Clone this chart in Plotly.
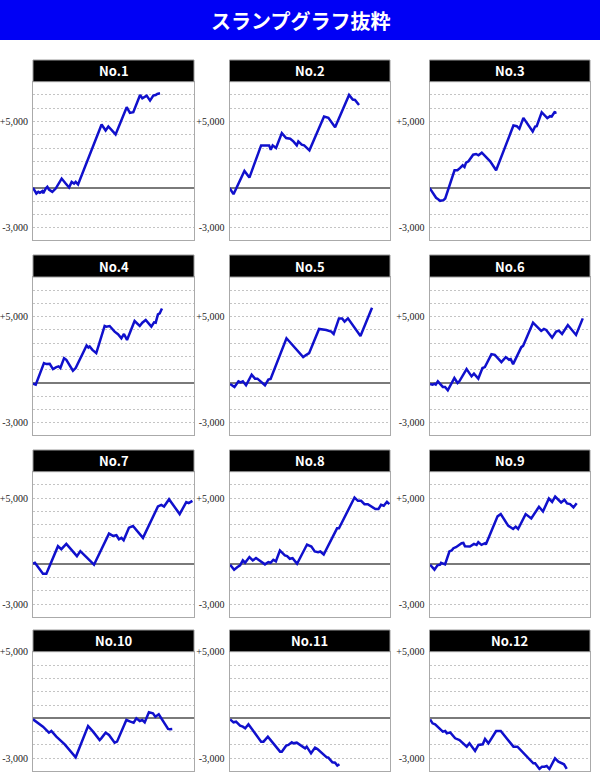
import plotly.graph_objects as go

# ---------------- data (x = position along the play span, 0-100; y = coins) ----------------
PANEL_TITLES = ["No.1", "No.2", "No.3", "No.4", "No.5", "No.6",
                "No.7", "No.8", "No.9", "No.10", "No.11", "No.12"]
TICK_VALUES = [5000, -3000]
TICK_LABELS = ["+5,000", "-3,000"]
MAIN_TITLE = "スランプグラフ抜粋"

NO1_X = [0, 2.1, 3.3, 4.3, 5.8, 6.4, 7.9, 8.9, 9.9, 11, 12, 14.1, 17.8, 20.3, 22.4, 24, 25.5, 26.5, 28,
         42.6, 45.1, 46.8, 51.3, 58.2, 60.2, 62.3, 66.5, 67.9, 69.4, 70.6, 72.7, 74.7, 76.2, 77.2, 78.9]
NO1_Y = [0, -425, -300, -375, -250, -400, -50, 75, -125, -250, -300, -50, 700, 325, 25, 450, 325, 450, 250,
         4775, 4325, 4625, 4025, 6075, 5650, 5700, 7000, 6750, 6900, 6950, 6575, 6950, 7000, 7075, 7125]

NO2_X = [0, 2.5, 9.3, 12.4, 19.7, 23.2, 24.7, 25.7, 26.9, 29, 32.6, 35.3, 37.8, 39.8, 41.9, 42.9, 45, 46.5,
         49.8, 58.9, 61.6, 65.8, 74.5, 76.8, 78.2, 80.7]
NO2_Y = [0, -475, 1275, 775, 3200, 3200, 3200, 2875, 3200, 3000, 4125, 3750, 3700, 3500, 3200, 3500, 3250, 3200,
         2825, 5375, 5275, 4575, 7000, 6650, 6625, 6250]

NO3_X = [0, 4.1, 5.6, 6.6, 8.7, 9.8, 15.6, 17.4, 19.1, 20.7, 21.8, 22.8, 24.3, 27.2, 29, 30.5, 32.6, 34.6,
         37.8, 41.5, 52.3, 54.4, 56, 58.5, 64.3, 65.8, 66.8, 69.9, 71.4, 73.4, 75.1, 76.1, 78.2, 78.6]
NO3_Y = [0, -750, -875, -975, -925, -800, 1325, 1325, 1500, 1700, 1575, 1900, 2000, 2500, 2550, 2450, 2650, 2400,
         2000, 1325, 4700, 4650, 4450, 5275, 4250, 4625, 4650, 5700, 5500, 5250, 5400, 5375, 5750, 5575]

NO4_X = [0, 1.7, 6.8, 8.3, 10.4, 12.4, 14.5, 15.9, 17, 19.3, 20.7, 24.8, 26.5, 33.3, 34.4, 35.2, 36.9, 39.3,
         44.5, 45.5, 47.6, 50.7, 52.8, 54.9, 56.5, 58.4, 63.1, 66.3, 67.9, 70, 73.5, 75.2, 76.2, 77.6, 78.7, 80.1]
NO4_Y = [-50, -125, 1500, 1425, 1450, 1050, 1200, 1250, 1125, 1875, 1750, 925, 1125, 2825, 2675, 2750, 2500, 2250,
         4300, 4250, 4300, 3875, 3675, 3375, 3700, 3250, 4675, 4300, 4550, 4750, 4250, 4575, 4550, 5175, 5250, 5625]

NO5_X = [0.4, 3.1, 5.6, 7, 8.3, 10.3, 13.8, 15.9, 17.4, 20, 22.1, 24.2, 25.6, 35.5, 45.9, 47.9, 49.6, 55.8,
         58.3, 60.3, 63.4, 64.9, 68.2, 70.2, 71.7, 73.8, 81.6, 88.8]
NO5_Y = [-75, -300, 125, 50, 125, -175, 625, 325, 325, 50, -175, 250, 300, 3375, 1950, 2125, 2250, 4075,
         4050, 4000, 3875, 3700, 4875, 4875, 4625, 4875, 3550, 5675]

NO6_X = [0.4, 1.9, 3.1, 3.9, 5.2, 8.3, 9.7, 11.4, 15.5, 17.5, 18.6, 23.1, 26.2, 27.7, 30.4, 33, 34.5, 38.6,
         40.7, 44.8, 47.5, 49.6, 50.6, 52.1, 57.2, 58.3, 64.5, 69.6, 71.3, 72.7, 76.4, 78.9, 80.6, 82.6, 86.2,
         91.3, 95.5]
NO6_Y = [-75, -125, -75, -125, 125, -300, -300, -550, 375, 0, 125, 1050, 500, 700, 325, 1125, 1200, 2175,
         2125, 1575, 1950, 1750, 1800, 1425, 2700, 2800, 4550, 3925, 4075, 4000, 3425, 3875, 3950, 3700, 4375,
         3625, 4875]

NO7_X = [0, 1.2, 6.2, 8.3, 15.5, 17.6, 20.7, 27.3, 29.4, 37.9, 47.2, 49.7, 51.8, 53.4, 54.9, 56.3, 59.6,
         62.1, 68.3, 77.6, 79.7, 81.4, 84.5, 91.1, 95.2, 96.7, 99]
NO7_Y = [50, 125, -700, -700, 1375, 1150, 1550, 625, 1000, -25, 2325, 2150, 2200, 1900, 2000, 1825, 2775,
         2900, 2000, 4375, 4500, 4375, 4925, 3800, 4700, 4625, 4800]

NO8_X = [0.4, 2.9, 5, 6.6, 8.3, 9.7, 12.4, 14.5, 16.5, 20, 22.1, 24.2, 25.6, 27.3, 28.9, 31.4, 34.5, 35.9,
         37.6, 39.3, 42.1, 48.3, 51, 53.1, 55.2, 56.6, 58.7, 67, 68.2, 77.9, 80, 82, 84.1, 86.2, 88.2, 90.9,
         92.8, 94.4, 96.1, 98.1, 99.6]
NO8_Y = [-25, -400, -200, -75, 300, 125, 550, 300, 475, 175, 0, 175, 125, 350, 225, 1050, 675, 625,
         425, 475, 50, 1500, 1350, 975, 925, 975, 750, 2725, 2725, 5050, 4800, 4800, 4550, 4550, 4375, 4175,
         4175, 4500, 4425, 4725, 4550]

NO9_X = [0.4, 3.1, 5, 6.6, 7.2, 8.7, 9.7, 12.4, 13.8, 14.9, 16.5, 20, 21.1, 22.1, 25.2, 27.7, 29.3, 30.4,
         32.4, 34.5, 35.1, 42.4, 44.4, 49, 52.1, 53.7, 55.2, 59.9, 63.4, 68.2, 70.7, 74.4, 76.4, 78.3, 82,
         84.1, 85.7, 87.6, 89.7, 91.7]
NO9_Y = [-25, -400, -75, -25, 125, 50, 0, 975, 1050, 1225, 1300, 1600, 1625, 1375, 1350, 1550, 1475, 1675,
         1475, 1600, 1500, 3625, 3800, 2925, 2675, 2850, 2675, 3800, 3475, 4350, 4000, 4975, 4725, 5125, 4675,
         4875, 4600, 4550, 4300, 4625]

NO10_X = [0, 2.1, 3.5, 4.1, 6.2, 9.9, 11.4, 14.5, 17.2, 19.7, 26.5, 34.2, 37.3, 41.4, 42.4, 45.1, 47.2,
          50.7, 52.2, 58, 60.5, 62.5, 64.2, 66.3, 67.9, 69.4, 72, 74.5, 76, 78.1, 83.9, 84.9, 86.5]
NO10_Y = [-75, -250, -425, -425, -625, -1075, -950, -1375, -1700, -1950, -2925, -575, -1000, -1625, -1500,
          -1075, -1250, -1825, -1750, -125, -250, -325, 0, -200, -125, -300, 450, 375, 125, 300, -800, -825, -800]

NO11_X = [0.4, 2.5, 4.1, 6.6, 8.3, 9.8, 11.8, 19.7, 21.2, 23.9, 31.5, 32.6, 35.3, 36.7, 38.8, 39.8, 41.9,
          47.1, 48.1, 50.8, 53.3, 54.8, 60.6, 61.6, 64.1, 65.8, 67.2, 68.5]
NO11_Y = [-75, -300, -250, -550, -625, -750, -450, -1750, -1750, -1375, -2500, -2500, -2050, -2000, -1800,
          -1875, -1825, -2250, -2125, -2625, -2200, -2300, -2925, -2950, -3300, -3325, -3550, -3450]

NO12_X = [0.4, 1.9, 3.5, 6.6, 8.3, 9.8, 10.8, 12.9, 14.9, 16, 18.7, 23.2, 24.9, 28.4, 30.5, 33.2, 34.6,
          36.7, 41.5, 44.4, 52.3, 54.8, 64.7, 65.8, 68.5, 70.1, 71.6, 73, 74.7, 78.2, 80.3, 82.4, 83.8, 85.5]
NO12_Y = [-75, -375, -450, -825, -1000, -950, -1125, -1050, -1375, -1500, -1625, -2125, -1875, -2450, -2000,
          -1950, -1550, -1875, -950, -950, -2125, -2125, -3375, -3375, -3800, -3625, -3625, -3575, -3800, -3000,
          -3250, -3375, -3450, -3800]

SERIES = [(NO1_X, NO1_Y), (NO2_X, NO2_Y), (NO3_X, NO3_Y), (NO4_X, NO4_Y), (NO5_X, NO5_Y), (NO6_X, NO6_Y),
          (NO7_X, NO7_Y), (NO8_X, NO8_Y), (NO9_X, NO9_Y), (NO10_X, NO10_Y), (NO11_X, NO11_Y), (NO12_X, NO12_Y)]

# ---------------- layout geometry (pixels) ----------------
W, H = 600, 779
COLS = [(33, 194), (229.5, 390), (429.5, 590)]
# (header top, plot top, plot bottom, y-range)
ROWS = [(60, 81.7, 240, [-3930, 8000]),
        (255, 277, 435, [-3930, 8000]),
        (450, 471.7, 616.7, [-3950, 7000]),
        (630, 651.7, 770.7, [-3930, 5001])]

LINE_COLOR = "#1010CC"
GRID_COLOR = "#c4c4c4"
FRAME_COLOR = "#aaaaaa"

fig = go.Figure()
shapes, annotations = [], []
layout = {}


def px(v):
    return v / W


def py(v):
    return 1 - v / H


for i, (xs, ys) in enumerate(SERIES):
    r, c = divmod(i, 3)
    x0, x1 = COLS[c]
    htop, ptop, pbot, yr = ROWS[r]
    sfx = "" if i == 0 else str(i + 1)
    fig.add_trace(go.Scatter(x=xs, y=ys, mode="lines", xaxis="x" + sfx, yaxis="y" + sfx,
                             line=dict(color=LINE_COLOR, width=2.5), showlegend=False, hoverinfo="skip"))
    layout["xaxis" + sfx] = dict(domain=[px(x0), px(x1)], range=[0, 100], anchor="y" + sfx,
                                 showgrid=False, zeroline=False, showticklabels=False, ticks="",
                                 showline=True, mirror=True, linecolor=FRAME_COLOR, linewidth=1,
                                 automargin=False, fixedrange=True)
    layout["yaxis" + sfx] = dict(domain=[py(pbot), py(ptop)], range=yr, anchor="x" + sfx,
                                 tickmode="array", tickvals=TICK_VALUES, ticktext=TICK_LABELS,
                                 ticks="", ticklabelstandoff=2, automargin=False,
                                 tickfont=dict(family="Liberation Serif", size=10, color="#222222"),
                                 showgrid=True, gridcolor=GRID_COLOR, griddash="2px,2px", gridwidth=1,
                                 minor=dict(dtick=1000, tick0=0, showgrid=True, gridcolor=GRID_COLOR,
                                            griddash="2px,2px", gridwidth=1, ticks=""),
                                 zeroline=True, zerolinecolor="#7a7a7a", zerolinewidth=1.5,
                                 showline=True, mirror=True, linecolor=FRAME_COLOR, linewidth=1,
                                 fixedrange=True)
    # black header box
    shapes.append(dict(type="rect", xref="paper", yref="paper", x0=px(x0), x1=px(x1),
                       y0=py(ptop), y1=py(htop), fillcolor="#000000",
                       line=dict(color="#999999", width=1), layer="above"))
    annotations.append(dict(text="<b>" + PANEL_TITLES[i] + "</b>", xref="paper", yref="paper",
                            x=px((x0 + x1) / 2), y=py((htop + ptop) / 2), xanchor="center", yanchor="middle",
                            showarrow=False,
                            font=dict(family="Noto Sans CJK JP", size=13, color="#ffffff")))

# title bar
shapes.append(dict(type="rect", xref="paper", yref="paper", x0=0, x1=1, y0=py(40), y1=1,
                   fillcolor="#0000F5", line=dict(width=0), layer="below"))
annotations.append(dict(text="<b>" + MAIN_TITLE + "</b>", xref="paper", yref="paper", x=0.5, y=py(20.5),
                        xanchor="center", yanchor="middle", showarrow=False,
                        font=dict(family="Noto Sans CJK JP", size=20, color="#ffffff")))

fig.update_layout(width=W, height=H, margin=dict(l=0, r=0, t=0, b=0, pad=0, autoexpand=False),
                  paper_bgcolor="#ffffff", plot_bgcolor="#ffffff",
                  shapes=shapes, annotations=annotations, **layout)

fig.write_html("out.html", config={"displayModeBar": False},
               post_script="document.body.style.margin='0';document.body.style.padding='0';"
                           "document.body.style.overflow='hidden';")
